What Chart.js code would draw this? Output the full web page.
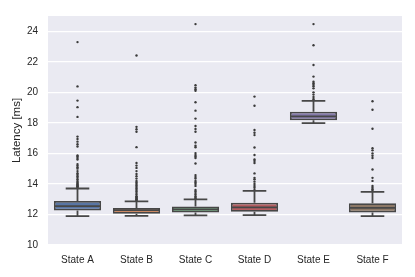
<!DOCTYPE html>
<html>
<head>
<meta charset="utf-8">
<script src="https://cdn.jsdelivr.net/npm/chart.js@4.4.0/dist/chart.umd.min.js"></script>
<style>
  html, body { margin: 0; padding: 0; background: #fff; }
  #wrap { width: 415px; height: 277px; }
</style>
</head>
<body>
<div id="wrap"><canvas id="chart" width="415" height="277"></canvas></div>
<script>
// states on the x axis
const states = ["State A", "State B", "State C", "State D", "State E", "State F"];

// box statistics (ms)
const q1 = [12.26, 12.04, 12.13, 12.17, 18.17, 12.13];
const median = [12.54, 12.28, 12.34, 12.47, 18.43, 12.43];
const q3 = [12.88, 12.43, 12.52, 12.77, 18.73, 12.73];
const whiskerLow = [11.89, 11.91, 11.94, 11.96, 17.98, 11.89];
const whiskerHigh = [13.70, 12.86, 12.99, 13.55, 19.44, 13.48];

// outliers per state
const outA = [13.75, 13.8, 13.85, 13.9, 13.95, 14.0, 14.06, 14.12, 14.2, 14.3, 14.4, 14.5, 14.6, 14.7, 14.84,
  15.0, 15.1, 15.2, 15.3, 15.6, 15.7, 15.8, 15.87, 16.45, 16.6, 16.77, 16.94, 17.1, 18.39, 19.03, 19.46, 20.39, 23.29];
const outB = [12.9, 12.95, 13.0, 13.05, 13.1, 13.15, 13.2, 13.3, 13.4, 13.5, 13.6, 13.7, 13.8, 13.9, 14.0,
  14.1, 14.2, 14.35, 14.5, 14.65, 14.84, 15.05, 15.2, 15.37, 16.41, 17.42, 17.58, 17.74, 22.41];
const outC = [13.05, 13.1, 13.2, 13.3, 13.4, 13.5, 13.6, 13.87, 14.0, 14.1, 14.2, 14.35, 14.45, 14.58, 15.34,
  15.7, 15.8, 15.9, 16.02, 16.4, 16.5, 16.71, 17.42, 17.6, 17.79, 18.28, 18.8, 19.35, 20.1, 20.2, 20.31, 20.47, 24.47];
const outD = [13.6, 13.75, 13.87, 14.0, 14.15, 14.3, 14.4, 14.69, 15.37, 15.5, 15.6, 15.9, 16.39, 17.2, 17.35, 17.53, 19.12, 19.72];
const outE = [19.5, 19.57, 19.7, 19.85, 20.0, 20.26, 20.4, 20.5, 20.6, 20.69, 21.03, 21.79, 23.08, 24.47];
const outF = [13.55, 13.65, 13.75, 13.87, 14.2, 14.4, 14.95, 15.7, 15.85, 16.0, 16.2, 16.34, 17.61, 18.86, 19.42];
const outliers = [outA, outB, outC, outD, outE, outF];

const boxColors = ["#5875a4", "#cc8963", "#5f9e6e", "#b55d60", "#857aab", "#8d7866"];
const lineColor = "#474747";

// flatten outliers into points on the category axis
const outlierPoints = [];
outliers.forEach((list, i) => {
  list.forEach((v) => outlierPoints.push({ x: states[i], y: v }));
});

// grey plot background like seaborn darkgrid
const backgroundPlugin = {
  id: "plotBg",
  beforeDraw(chart) {
    const { ctx, chartArea: a } = chart;
    ctx.save();
    ctx.fillStyle = "#eaeaf2";
    ctx.fillRect(a.left, a.top, a.right - a.left, a.bottom - a.top);
    ctx.restore();
  },
};

// whiskers, caps and medians, placed through the chart scales
const boxLinesPlugin = {
  id: "boxLines",
  afterDatasetsDraw(chart) {
    const ctx = chart.ctx;
    const xs = chart.scales.x;
    const ys = chart.scales.y;
    const meta = chart.getDatasetMeta(0);
    ctx.save();
    ctx.strokeStyle = lineColor;
    ctx.lineWidth = 1.8;
    states.forEach((s, i) => {
      const bar = meta.data[i];
      const cx = xs.getPixelForValue(i);
      const half = bar.width / 2;
      const capHalf = half / 2;
      // median
      ctx.beginPath();
      ctx.moveTo(cx - half + 1, ys.getPixelForValue(median[i]));
      ctx.lineTo(cx + half - 1, ys.getPixelForValue(median[i]));
      ctx.stroke();
      // whiskers
      ctx.beginPath();
      ctx.moveTo(cx, ys.getPixelForValue(q1[i]));
      ctx.lineTo(cx, ys.getPixelForValue(whiskerLow[i]));
      ctx.moveTo(cx, ys.getPixelForValue(q3[i]));
      ctx.lineTo(cx, ys.getPixelForValue(whiskerHigh[i]));
      // caps
      ctx.moveTo(cx - capHalf, ys.getPixelForValue(whiskerLow[i]));
      ctx.lineTo(cx + capHalf, ys.getPixelForValue(whiskerLow[i]));
      ctx.moveTo(cx - capHalf, ys.getPixelForValue(whiskerHigh[i]));
      ctx.lineTo(cx + capHalf, ys.getPixelForValue(whiskerHigh[i]));
      ctx.stroke();
    });
    ctx.restore();
  },
};

const tickFont = { family: "'Liberation Sans', Arial, sans-serif", size: 10 };

new Chart(document.getElementById("chart"), {
  data: {
    labels: states,
    datasets: [
      {
        type: "bar",
        data: states.map((s, i) => [q1[i], q3[i]]),
        backgroundColor: boxColors,
        borderColor: lineColor,
        borderWidth: 1.8,
        borderSkipped: false,
        categoryPercentage: 0.8,
        barPercentage: 1.0,
        order: 2,
      },
      {
        type: "line",
        data: outlierPoints,
        showLine: false,
        pointRadius: 1.2,
        pointBorderWidth: 0,
        pointBackgroundColor: "#3a3a3a",
        order: 1,
      },
    ],
  },
  options: {
    responsive: false,
    animation: false,
    devicePixelRatio: 1,
    layout: { padding: { top: 12, right: 13, left: 10, bottom: 0 } },
    plugins: {
      legend: { display: false },
      tooltip: { enabled: false },
    },
    scales: {
      x: {
        type: "category",
        grid: { display: false, drawTicks: false },
        border: { display: false },
        ticks: { color: "#262626", font: tickFont, padding: 9 },
        afterFit: (scale) => { scale.height = 32; },
      },
      y: {
        min: 10,
        max: 25,
        grid: { color: "#ffffff", lineWidth: 1.2, drawTicks: false },
        border: { display: false },
        ticks: { stepSize: 2, color: "#262626", font: tickFont, padding: 10 },
        afterBuildTicks: (scale) => {
          scale.ticks = scale.ticks.filter((t) => t.value % 2 === 0);
        },
        title: {
          display: true,
          text: "Latency [ms]",
          color: "#262626",
          font: { family: "'Liberation Sans', Arial, sans-serif", size: 11.5 },
          padding: { top: 0, bottom: 2 },
        },
        afterFit: (scale) => { scale.width = 38; },
      },
    },
  },
  plugins: [backgroundPlugin, boxLinesPlugin],
});
</script>
</body>
</html>
